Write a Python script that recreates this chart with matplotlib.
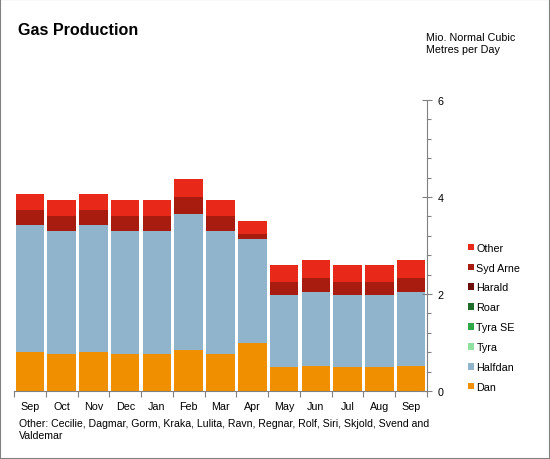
import matplotlib.pyplot as plt
import numpy as np

plt.rcParams['font.family'] = ['Liberation Sans', 'DejaVu Sans']

months = ['Sep', 'Oct', 'Nov', 'Dec', 'Jan', 'Feb', 'Mar', 'Apr', 'May', 'Jun', 'Jul', 'Aug', 'Sep']

# Mio. normal cubic metres per day, per field
dan      = [0.80, 0.77, 0.80, 0.77, 0.77, 0.85, 0.77, 0.98, 0.50, 0.52, 0.50, 0.50, 0.52]
halfdan  = [2.63, 2.53, 2.63, 2.53, 2.53, 2.79, 2.53, 2.16, 1.48, 1.53, 1.48, 1.48, 1.53]
tyra     = [0] * 13
tyra_se  = [0] * 13
roar     = [0] * 13
harald   = [0] * 13
syd_arne = [0.31, 0.31, 0.31, 0.31, 0.31, 0.36, 0.31, 0.10, 0.27, 0.29, 0.27, 0.27, 0.29]
other    = [0.33, 0.33, 0.33, 0.33, 0.33, 0.37, 0.33, 0.27, 0.35, 0.37, 0.35, 0.35, 0.37]

series = [
    ('Dan', dan, '#f09000'),
    ('Halfdan', halfdan, '#90b4cc'),
    ('Tyra', tyra, '#90e0a0'),
    ('Tyra SE', tyra_se, '#30a848'),
    ('Roar', roar, '#1e6b2a'),
    ('Harald', harald, '#6b0e0a'),
    ('Syd Arne', syd_arne, '#a81c10'),
    ('Other', other, '#e82818'),
]

fs = 7.75

fig = plt.figure(figsize=(5.5, 4.6), dpi=100)
ax = fig.add_axes([14 / 550, 1 - 392 / 460, 413 / 550, 291 / 460])

x = np.arange(len(months))
bottom = np.zeros(len(months))
handles = []
for name, vals, col in series:
    b = ax.bar(x, vals, width=0.9, bottom=bottom, color=col, label=name)
    bottom += np.array(vals)
    handles.append(b)

ax.set_xlim(-0.5, len(months) - 0.5)
ax.set_ylim(0, 6)

# right-hand y axis
ax.yaxis.tick_right()
ax.set_yticks([0, 2, 4, 6])
ax.set_yticks(np.arange(0, 6.01, 0.4), minor=True)
ax.tick_params(axis='y', which='major', direction='inout', length=7, width=0.8,
               color='#808080', labelsize=fs, pad=4)
ax.tick_params(axis='y', which='minor', direction='out', length=3, width=0.8, color='#808080')

# category ticks sit between the bars
ax.set_xticks(np.arange(-0.5, len(months), 1.0))
ax.set_xticklabels([])
ax.set_xticks(x, minor=True)
ax.set_xticklabels(months, minor=True)
ax.tick_params(axis='x', which='major', direction='out', length=4, width=0.8, color='#808080')
ax.tick_params(axis='x', which='minor', length=0, labelsize=fs, pad=7.5)

for s in ['top', 'left']:
    ax.spines[s].set_visible(False)
for s in ['right', 'bottom']:
    ax.spines[s].set_color('#808080')
    ax.spines[s].set_linewidth(0.8)

leg = fig.legend(handles[::-1], [s[0] for s in series][::-1], loc='upper left',
                 bbox_to_anchor=(458 / 550, 1 - 234 / 460), frameon=False, fontsize=fs,
                 handlelength=0.55, handleheight=0.55, handletextpad=0.25, labelspacing=0.92)

fig.text(18 / 550, 1 - 31 / 460, 'Gas Production', fontsize=11.6, fontweight='bold', va='center')
fig.text(426 / 550, 1 - 44 / 460, 'Mio. Normal Cubic\nMetres per Day', fontsize=fs,
         va='center', linespacing=1.3)
fig.text(19 / 550, 1 - 430 / 460, 'Other: Cecilie, Dagmar, Gorm, Kraka, Lulita, Ravn, Regnar, Rolf, Siri, Skjold, Svend and\nValdemar',
         fontsize=7.6, va='center', linespacing=1.25)

# grey frame around the whole chart
fig.patches.append(plt.Rectangle((0, 0), 1, 1, transform=fig.transFigure, fill=False,
                                 edgecolor='#808080', linewidth=1.5))

fig.savefig('out.png', dpi=100)
